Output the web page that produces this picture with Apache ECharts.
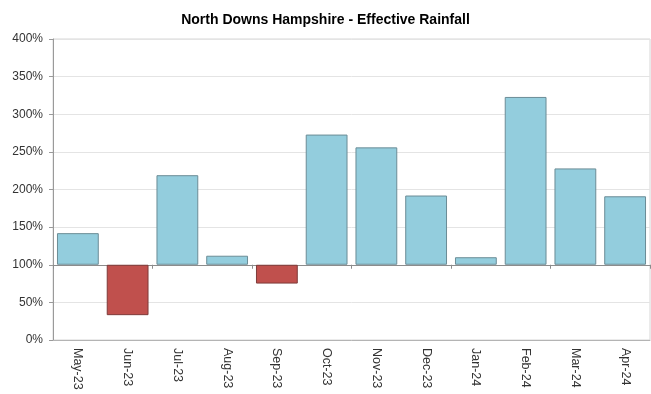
<!DOCTYPE html>
<html>
<head>
<meta charset="utf-8">
<script src="https://cdn.jsdelivr.net/npm/echarts@6/dist/echarts.min.js"></script>
<style>
  html, body { margin: 0; padding: 0; background: #fff; }
  #chart { width: 651px; height: 394px; }
</style>
</head>
<body>
<div id="chart"></div>
<script>
// Monthly effective rainfall as a percentage of the long-term average
const months = ['May-23', 'Jun-23', 'Jul-23', 'Aug-23', 'Sep-23', 'Oct-23',
                'Nov-23', 'Dec-23', 'Jan-24', 'Feb-24', 'Mar-24', 'Apr-24'];
const rainfallPct = [142, 33, 219, 112, 75, 273, 256, 192, 110, 323, 228, 191];
const baseline = 100;
const yTicks = [0, 50, 100, 150, 200, 250, 300, 350, 400];

const yMin = yTicks[0];
const yMax = yTicks[yTicks.length - 1];
const yStep = yTicks[1] - yTicks[0];

const gridTop = 39, gridBottom = 54;
const chartHeight = 394;
const plotHeight = chartHeight - gridTop - gridBottom;

// Bars hang from the 100% line: an invisible lower segment plus the visible difference
const lower = rainfallPct.map(v => Math.min(v, baseline));
const diff = rainfallPct.map(v => ({
  value: Math.abs(v - baseline),
  itemStyle: v >= baseline
    ? { color: '#93CDDD', borderColor: '#6b8c96', borderWidth: 1 }
    : { color: '#C0504D', borderColor: '#7e3b39', borderWidth: 1 }
}));

const chart = echarts.init(document.getElementById('chart'), null, { renderer: 'canvas' });
chart.setOption({
  animation: false,
  backgroundColor: '#ffffff',
  title: {
    text: 'North Downs Hampshire - Effective Rainfall',
    left: 'center',
    top: 8,
    textStyle: { fontFamily: 'Liberation Sans, Arial, sans-serif', fontSize: 14, fontWeight: 'bold', color: '#000' }
  },
  grid: {
    left: 53, right: 1, top: gridTop, bottom: gridBottom,
    show: true, borderColor: '#d6d6d6', borderWidth: 1
  },
  xAxis: [
    {
      type: 'category',
      data: months,
      position: 'bottom',
      axisLine: { show: true, lineStyle: { color: '#b4b4b4' } },
      axisTick: { show: false },
      axisLabel: {
        rotate: -90, margin: 8, interval: 0,
        fontFamily: 'Liberation Sans, Arial, sans-serif', fontSize: 12.5, color: '#333'
      },
      splitLine: { show: false }
    },
    {
      // baseline axis drawn at 100%
      type: 'category',
      data: months,
      position: 'bottom',
      offset: -plotHeight * (baseline - yMin) / (yMax - yMin),
      axisLine: { show: true, onZero: false, lineStyle: { color: '#8c8c8c' } },
      axisTick: { show: true, length: 4, lineStyle: { color: '#8c8c8c' } },
      axisLabel: { show: false },
      splitLine: { show: false }
    }
  ],
  yAxis: {
    type: 'value',
    min: yMin, max: yMax, interval: yStep,
    axisLine: { show: true, lineStyle: { color: '#9a9a9a' } },
    axisTick: { show: true, length: 4, lineStyle: { color: '#9a9a9a' } },
    axisLabel: {
      formatter: '{value}%', margin: 10,
      fontFamily: 'Liberation Sans, Arial, sans-serif', fontSize: 12, color: '#333'
    },
    splitLine: { show: true, lineStyle: { color: '#e4e4e4', width: 1 } }
  },
  series: [
    {
      type: 'bar', stack: 'rain', xAxisIndex: 0,
      data: lower,
      itemStyle: { color: 'rgba(0,0,0,0)' },
      barCategoryGap: '16%',
      silent: true
    },
    {
      type: 'bar', stack: 'rain', xAxisIndex: 0,
      data: diff,
      barCategoryGap: '16%'
    }
  ]
});
</script>
</body>
</html>
